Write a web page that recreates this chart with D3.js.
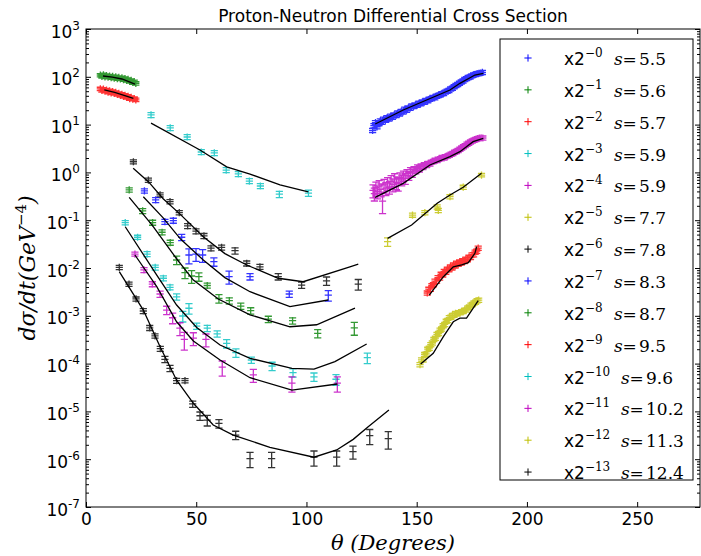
<!DOCTYPE html>
<html>
<head>
<meta charset="utf-8">
<script src="https://cdn.jsdelivr.net/npm/d3@7"></script>
<style>
  body { margin: 0; background: #fff; }
</style>
</head>
<body>
<div id="chart"></div>
<script>
// Proton-Neutron differential cross section, values as plotted (already scaled by 2^-n)

// legend info
var scaleExps = [0, 1, 2, 3, 4, 5, 6, 7, 8, 9, 10, 11, 12, 13];
var energies = ["5.5", "5.6", "5.7", "5.9", "5.9", "7.7", "7.8", "8.3", "8.7", "9.5", "9.6", "10.2", "11.3", "12.4"];
var colors = ["#0000ff", "#008000", "#ff0000", "#00bfbf", "#bf00bf", "#bfbf00", "#000000",
              "#0000ff", "#008000", "#ff0000", "#00bfbf", "#bf00bf", "#bfbf00", "#000000"];

// axis ticks
var xTickVals = [0, 50, 100, 150, 200, 250];
var yTickExps = [-7, -6, -5, -4, -3, -2, -1, 0, 1, 2, 3];

// s=5.5  (x2^-0)
var ang0 = [130.0,130.6,131.3,132.0,132.8,133.5,134.3,135.0,135.8,136.6,137.4,138.2,139.0,139.8,140.6,141.4,
  142.2,143.0,143.8,144.6,145.4,146.2,147.0,147.8,148.6,149.4,150.2,151.0,151.8,152.6,153.4,154.2,155.0,
  155.8,156.6,157.4,158.2,159.0,159.8,160.6,161.4,162.2,163.0,163.8,164.6,165.4,166.2,167.0,167.8,168.6,
  169.4,170.2,171.0,171.8,172.6,173.4,174.2,175.0,175.8,176.6,177.4,178.2,179.0,179.8];
var val0 = [7.6,9.5,11.0,9.0,10.5,12.0,11.2,13.0,12.4,14.0,13.2,15.0,14.3,16.0,15.5,17.5,16.8,19.0,18.5,21.0,
  20.0,22.5,22.0,24.5,24.0,26.0,25.5,28.0,27.5,30.0,29.5,32.0,31.5,34.0,35.0,37.0,36.5,39.5,41.0,42.0,44.5,
  45.0,48.0,50.0,52.0,56.0,58.0,62.0,66.0,69.0,74.0,78.0,82.0,88.0,92.0,97.0,100,105,110,112,116,118,120,124];
var err0 = 0.1;
var mAng0 = [131.2, 143.9, 154.5, 165.1, 169.6, 176.4, 180.2];
var mVal0 = [10.3, 20.2, 32.7, 53, 73, 109, 118];

// s=5.6  (x2^-1)
var ang1 = [6.5,7.2,7.9,8.6,9.3,10.0,10.7,11.4,12.1,12.8,13.5,14.2,14.9,15.6,16.3,17.0,17.7,18.4,19.1,19.8,20.5,21.2,21.9,22.6];
var val1 = [108,102,110,100,106,98,104,96,102,94,100,92,97,90,95,87,92,84,88,80,84,76,79,73];
var err1 = 0.08;
var mAng1 = [7.7, 12.0, 16.3, 22.2];
var mVal1 = [104, 98, 90, 70.6];

// s=5.7  (x2^-2)
var ang2 = [6.5,7.2,7.9,8.6,9.3,10.0,10.7,11.4,12.1,12.8,13.5,14.2,14.9,15.6,16.3,17.0,17.7,18.4,19.1,19.8,20.5,21.2,21.9,22.6];
var val2 = [56,52,55,50,53,48,51,46,49,45,47,43,45,41,43,39,41,37,39,35,37,34,35,33];
var err2 = 0.08;
var mAng2 = [8.3, 13.0, 16.9, 21.5];
var mVal2 = [53, 47, 41.6, 35.5];

// s=5.9  (x2^-3)
var ang3 = [29.5, 38.2, 45.9, 52.3, 58.2, 63.6, 69.1, 74.1, 79.1, 87.7, 100.9];
var val3 = [15.9, 8.5, 5.5, 2.67, 2.55, 1.12, 0.93, 0.66, 0.52, 0.35, 0.37];
var err3 = [0.12,0.12,0.12,0.12,0.12,0.12,0.12,0.12,0.12,0.15,0.15];
var mAng3 = [29.5, 51.7, 63.8, 74.4, 88.0, 100.8];
var mVal3 = [10.7, 2.94, 1.31, 0.92, 0.55, 0.39];

// s=5.9  (x2^-4)
var ang4 = [130.2,130.8,131.5,132.2,133.0,133.8,134.5,135.2,136.0,136.8,137.6,138.4,139.2,140.0,140.8,141.6,
  142.4,143.2,144.0,144.8,145.6,146.4,147.2,148.0,148.8,149.6,150.4,151.2,152.0,152.8,153.6,154.4,155.2,
  156.0,156.8,157.6,158.4,159.2,160.0,160.8,161.6,162.4,163.2,164.0,164.8,165.6,166.4,167.2,168.0,168.8,
  169.6,170.4,171.2,172.0,172.8,173.6,174.4,175.2,176.0,176.8,177.6,178.4,179.2,180.0];
var val4 = [0.42,0.36,0.48,0.40,0.52,0.44,0.25,0.55,0.47,0.60,0.50,0.66,0.56,0.72,0.62,0.58,0.78,0.70,0.85,
  0.75,0.95,0.85,1.05,0.98,1.15,1.10,1.25,1.20,1.35,1.30,1.45,1.40,1.55,1.50,1.65,1.70,1.80,1.78,1.90,1.95,
  2.05,2.00,2.15,2.20,2.30,2.40,2.50,2.65,2.75,2.90,3.05,3.25,3.45,3.65,3.90,4.10,4.35,4.55,4.75,4.90,5.10,
  5.20,5.30,5.25];
var err4 = [0.3,0.3,0.3,0.3,0.3,0.3,0.45,0.3,0.3,0.3,0.3,0.3,0.3,0.3,0.3,0.3,0.25,0.25,0.25,0.25,0.2,0.2,
  0.2,0.2,0.15,0.15,0.15,0.15,0.12,0.12,0.1,0.1,0.1,0.1,0.1,0.1,0.1,0.1,0.1,0.1,0.1,0.1,0.1,0.1,0.1,0.1,
  0.1,0.1,0.1,0.1,0.1,0.1,0.1,0.1,0.1,0.1,0.1,0.1,0.1,0.1,0.1,0.1,0.1,0.1];
var mAng4 = [131.1, 143.9, 156.0, 165.1, 169.6, 175.6, 180.2];
var mVal4 = [0.30, 0.59, 1.43, 2.13, 2.71, 4.39, 5.16];

// s=7.7  (x2^-5)
var ang5 = [136.8, 148.1, 153.7, 159.3, 159.8, 165.1, 171.1, 179.4];
var val5 = [0.0355, 0.128, 0.144, 0.19, 0.16, 0.31, 0.49, 0.88];
var err5 = [0.2, 0.1, 0.1, 0.1, 0.1, 0.1, 0.1, 0.08];
var mAng5 = [136.8, 147.7, 159.3, 165.1, 171.1, 179.4];
var mVal5 = [0.0418, 0.0794, 0.226, 0.337, 0.488, 0.957];

// s=7.8  (x2^-6)
var ang6 = [21.5, 28.3, 33.6, 38.1, 42.3, 46.1, 49.9, 53.5, 56.7, 61.5, 67.6, 72.9, 78.9, 87.2, 97.8, 109.1, 123.5];
var val6 = [1.67, 0.69, 0.34, 0.244, 0.144, 0.076, 0.059, 0.047, 0.026, 0.027, 0.023, 0.0125, 0.0106, 0.0066, 0.0044, 0.0054, 0.0046];
var err6 = [0.1,0.1,0.1,0.1,0.1,0.12,0.12,0.12,0.12,0.12,0.15,0.12,0.12,0.15,0.15,0.2,0.25];
var mAng6 = [21.4, 28.3, 35.0, 42.3, 53.2, 63.0, 72.9, 87.2, 98.5, 119.7, 123.5];
var mVal6 = [1.22, 0.64, 0.282, 0.139, 0.0452, 0.020, 0.01156, 0.0061, 0.00516, 0.0106, 0.0121];

// s=8.3  (x2^-7)
var ang7 = [26.5, 31.6, 35.8, 39.6, 43.4, 46.7, 49.9, 52.9, 58.0, 64.9, 74.4, 92.2, 109.9];
var val7 = [0.41, 0.265, 0.093, 0.098, 0.044, 0.0187, 0.0196, 0.0187, 0.0136, 0.0066, 0.0066, 0.00286, 0.0027];
var err7 = [0.1,0.12,0.12,0.12,0.15,0.35,0.3,0.3,0.2,0.3,0.15,0.15,0.25];
var mAng7 = [26.0, 35.0, 43.0, 53.2, 63.0, 74.4, 92.5, 109.9];
var mVal7 = [0.31, 0.112, 0.0398, 0.0147, 0.0063, 0.00319, 0.00155, 0.00214];

// s=8.7  (x2^-8)
var ang8 = [19.6, 25.7, 30.2, 34.5, 38.2, 41.1, 44.9, 47.9, 51.2, 55.0, 60.3, 65.0, 70.2, 74.7, 82.7, 93.7, 105.1, 121.7];
var val8 = [0.43, 0.156, 0.089, 0.056, 0.034, 0.0147, 0.008, 0.0068, 0.0066, 0.0043, 0.0023, 0.00207, 0.0016, 0.00128, 0.00085, 0.00079, 0.00043, 0.00056];
var err8 = [0.1,0.12,0.12,0.12,0.12,0.2,0.25,0.3,0.2,0.12,0.2,0.15,0.15,0.15,0.15,0.15,0.2,0.3];
var mAng8 = [19.6, 30.0, 41.0, 48.7, 60.0, 74.4, 92.5, 104.6, 122.0];
var mVal8 = [0.30, 0.079, 0.0158, 0.0056, 0.00224, 0.00105, 0.00059, 0.00065, 0.00145];

// s=9.5  (x2^-9)
var ang9 = [154.8,155.5,156.2,156.9,157.6,158.3,159.0,159.7,160.4,161.1,161.8,162.5,163.2,163.9,164.6,165.3,
  166.0,166.7,167.4,168.1,168.8,169.5,170.2,170.9,171.6,172.3,173.0,173.7,174.4,175.1,175.8,176.5,177.2,177.9];
var val9 = [0.0030,0.0036,0.0036,0.0043,0.0045,0.0053,0.0053,0.0063,0.0062,0.0074,0.0072,0.0085,0.0082,0.0095,
  0.0092,0.0106,0.0100,0.0116,0.0110,0.0126,0.0120,0.0134,0.0128,0.0142,0.0138,0.0154,0.0150,0.0168,0.0166,
  0.0188,0.0190,0.0215,0.0225,0.0260];
var err9 = 0.1;
var mAng9 = [155.7, 162.1, 166.6, 170.4, 173.4, 176.4, 177.2];
var mVal9 = [0.00272, 0.00658, 0.0106, 0.0116, 0.0129, 0.0203, 0.0279];

// s=9.6  (x2^-10)
var ang10 = [17.8, 23.4, 27.7, 31.4, 35.1, 38.1, 41.1, 43.9, 46.7, 50.2, 55.0, 59.5, 63.8, 68.0, 75.0, 84.4, 93.9, 103.4, 113.4, 127.6];
var val10 = [0.089, 0.044, 0.0196, 0.0103, 0.0061, 0.00395, 0.0025, 0.00099, 0.00144, 0.00061, 0.00055, 0.00042,
  0.000265, 0.000169, 0.000119, 0.000089, 0.000065, 0.000053, 0.000047, 0.000133];
var err10 = [0.1,0.1,0.12,0.12,0.12,0.12,0.15,0.25,0.25,0.15,0.15,0.15,0.2,0.2,0.15,0.2,0.2,0.2,0.25,0.25];
var mAng10 = [17.8, 32.1, 41.1, 50.2, 60.8, 74.4, 93.4, 103.4, 112.9, 127.3];
var mVal10 = [0.073, 0.0071, 0.00168, 0.00057, 0.000245, 0.000129, 0.0000796, 0.000077, 0.00011, 0.000257];

// s=10.2 (x2^-11)
var ang11 = [22.2, 26.3, 30.1, 33.6, 36.6, 39.3, 42.6, 44.6, 48.7, 54.4, 61.8, 75.9, 93.4, 114.0];
var val11 = [0.0196, 0.0091, 0.0046, 0.00286, 0.00132, 0.00091, 0.00055, 0.00032, 0.00034, 0.00032, 0.000084, 0.000058, 0.000039, 0.000039];
var err11 = [0.1,0.12,0.12,0.15,0.2,0.25,0.3,0.4,0.3,0.3,0.35,0.3,0.35,0.35];
var mAng11 = [22.2, 32.1, 41.1, 48.7, 60.8, 74.4, 93.4, 114.0];
var mVal11 = [0.0187, 0.00406, 0.00075, 0.000297, 0.000119, 0.0000507, 0.000028, 0.0000374];

// s=11.3 (x2^-12)
var ang12 = [151.5,152.2,152.9,153.6,154.3,155.0,155.7,156.4,157.1,157.8,158.5,159.2,159.9,160.6,161.3,162.0,
  162.7,163.4,164.1,164.8,165.5,166.2,166.9,167.6,168.3,169.0,169.7,170.4,171.1,171.8,172.5,173.2,173.9,174.6,
  175.3,176.0,176.7,177.4,178.1];
var val12 = [0.000095,0.00012,0.00012,0.000155,0.00016,0.0002,0.00021,0.00025,0.00027,0.00032,0.00034,0.00041,
  0.00043,0.0005,0.00053,0.00062,0.00066,0.00077,0.0008,0.00092,0.00094,0.00102,0.00103,0.00112,0.0011,0.00117,
  0.00116,0.00122,0.00124,0.00132,0.00133,0.00147,0.00153,0.00167,0.00173,0.00187,0.00193,0.00207,0.00213];
var err12 = 0.1;
var mAng12 = [151.8, 157.5, 162.1, 166.6, 169.6, 172.6, 177.9];
var mVal12 = [0.000098, 0.000164, 0.000366, 0.00075, 0.00089, 0.00089, 0.00207];

// s=12.4 (x2^-13)
var ang13 = [15.1, 19.5, 22.7, 26.0, 28.9, 31.3, 33.7, 35.8, 38.1, 41.1, 44.9, 48.4, 51.7, 55.0, 60.3, 67.9,
  74.4, 84.2, 103.4, 113.7, 121.1, 128.7, 137.1];
var val13 = [0.0103, 0.0046, 0.00225, 0.00126, 0.00056, 0.00038, 0.000205, 0.000123, 0.0000796, 0.000044, 0.000044,
  0.0000143, 0.0000081, 0.0000066, 0.0000056, 0.0000032, 0.00000103, 0.00000103, 0.0000011, 0.0000011,
  0.00000144, 0.0000031, 0.0000027];
var err13 = [0.1,0.1,0.1,0.12,0.12,0.1,0.12,0.15,0.15,0.12,0.1,0.15,0.2,0.25,0.2,0.2,0.35,0.35,0.35,0.35,0.3,0.35,0.4];
var mAng13 = [15.1, 26.0, 33.6, 41.1, 48.7, 57.7, 66.8, 83.4, 103.4, 113.7, 121.2, 128.0, 137.4];
var mVal13 = [0.0084, 0.00132, 0.000226, 0.000045, 0.0000148, 0.0000052, 0.0000032, 0.00000177, 0.0000011,
  0.00000156, 0.0000026, 0.0000048, 0.0000107];

var series = [
  {ang: ang0, val: val0, err: err0, mAng: mAng0, mVal: mVal0},
  {ang: ang1, val: val1, err: err1, mAng: mAng1, mVal: mVal1},
  {ang: ang2, val: val2, err: err2, mAng: mAng2, mVal: mVal2},
  {ang: ang3, val: val3, err: err3, mAng: mAng3, mVal: mVal3},
  {ang: ang4, val: val4, err: err4, mAng: mAng4, mVal: mVal4},
  {ang: ang5, val: val5, err: err5, mAng: mAng5, mVal: mVal5},
  {ang: ang6, val: val6, err: err6, mAng: mAng6, mVal: mVal6},
  {ang: ang7, val: val7, err: err7, mAng: mAng7, mVal: mVal7},
  {ang: ang8, val: val8, err: err8, mAng: mAng8, mVal: mVal8},
  {ang: ang9, val: val9, err: err9, mAng: mAng9, mVal: mVal9},
  {ang: ang10, val: val10, err: err10, mAng: mAng10, mVal: mVal10},
  {ang: ang11, val: val11, err: err11, mAng: mAng11, mVal: mVal11},
  {ang: ang12, val: val12, err: err12, mAng: mAng12, mVal: mVal12},
  {ang: ang13, val: val13, err: err13, mAng: mAng13, mVal: mVal13}
];

var width = 701;
var height = 556;
var plotLeft = 86, plotRight = 700, plotTop = 29, plotBottom = 507;

/* Scales */
var xScale = d3.scaleLinear().domain([0, 278.5]).range([plotLeft, plotRight]);
var yScale = d3.scaleLog().domain([1e-7, 1e3]).range([plotBottom, plotTop]);

var svg = d3.select("#chart").append("svg")
  .attr("width", width)
  .attr("height", height)
  .attr("font-family", "DejaVu Sans");

svg.append("rect").attr("width", width).attr("height", height).attr("fill", "#fff");

svg.append("defs").append("clipPath").attr("id", "plotclip")
  .append("rect").attr("x", plotLeft).attr("y", plotTop)
  .attr("width", plotRight - plotLeft).attr("height", plotBottom - plotTop);

/* Points with error bars */
var plot = svg.append("g").attr("clip-path", "url(#plotclip)");
var half = 3.6;

series.forEach(function(s, k) {
  var d = "";
  var n = Math.min(s.ang.length, s.val.length);
  for (var i = 0; i < n; i++) {
    var e = Array.isArray(s.err) ? s.err[i] : s.err;
    var cx = xScale(s.ang[i]);
    var cy = yScale(s.val[i]);
    var y1 = yScale(s.val[i] * (1 + e));
    var y2 = yScale(s.val[i] * (1 - e));
    d += "M" + cx + "," + y1 + "V" + y2;
    d += "M" + (cx - half) + "," + y1 + "h" + (2 * half);
    d += "M" + (cx - half) + "," + y2 + "h" + (2 * half);
    d += "M" + (cx - half) + "," + cy + "h" + (2 * half);
    d += "M" + cx + "," + (cy - half) + "v" + (2 * half);
  }
  plot.append("path")
    .attr("d", d)
    .attr("fill", "none")
    .attr("stroke", colors[k])
    .attr("stroke-opacity", 0.8)
    .attr("stroke-width", 1.3);
});

/* Model curves */
var line = d3.line()
  .x(function(d) { return xScale(d[0]); })
  .y(function(d) { return yScale(d[1]); });

series.forEach(function(s) {
  plot.append("path")
    .datum(d3.zip(s.mAng, s.mVal))
    .attr("d", line)
    .attr("fill", "none")
    .attr("stroke", "#000")
    .attr("stroke-width", 1.3);
});

/* Axes */
var yMinor = [];
for (var p = -7; p < 3; p++) {
  for (var m = 2; m < 10; m++) yMinor.push(m * Math.pow(10, p));
}
var yMajor = yTickExps.map(function(e) { return Math.pow(10, e); });

function strip(g) { g.select(".domain").remove(); g.selectAll("text").remove(); }

svg.append("g").attr("transform", "translate(0," + plotBottom + ")")
  .call(d3.axisBottom(xScale).tickValues(xTickVals).tickSize(-5).tickPadding(6).tickFormat(d3.format("d")))
  .call(function(g) {
    g.select(".domain").remove();
    g.selectAll("text").attr("font-size", 17).attr("fill", "#000").attr("font-family", "DejaVu Sans");
  });
svg.append("g").attr("transform", "translate(0," + plotTop + ")")
  .call(d3.axisTop(xScale).tickValues(xTickVals).tickSize(-5)).call(strip);

svg.append("g").attr("transform", "translate(" + plotLeft + ",0)")
  .call(d3.axisLeft(yScale).tickValues(yMajor).tickSize(-5)).call(strip);
svg.append("g").attr("transform", "translate(" + plotLeft + ",0)")
  .call(d3.axisLeft(yScale).tickValues(yMinor).tickSize(-3)).call(strip);
svg.append("g").attr("transform", "translate(" + plotRight + ",0)")
  .call(d3.axisRight(yScale).tickValues(yMajor).tickSize(-5)).call(strip);
svg.append("g").attr("transform", "translate(" + plotRight + ",0)")
  .call(d3.axisRight(yScale).tickValues(yMinor).tickSize(-3)).call(strip);

// y tick labels 10^n
yTickExps.forEach(function(e) {
  var t = svg.append("text")
    .attr("x", plotLeft - 6)
    .attr("y", yScale(Math.pow(10, e)) + 8.5)
    .attr("text-anchor", "end")
    .attr("font-size", 17)
    .attr("fill", "#000");
  t.append("tspan").text("10");
  t.append("tspan").attr("dy", -8).attr("font-size", 12).text(e < 0 ? "-" + (-e) : "" + e);
});

// frame
svg.append("rect")
  .attr("x", plotLeft).attr("y", plotTop)
  .attr("width", plotRight - plotLeft).attr("height", plotBottom - plotTop)
  .attr("fill", "none").attr("stroke", "#000").attr("stroke-width", 1);

/* Title and axis labels */
svg.append("text")
  .attr("x", (plotLeft + plotRight) / 2).attr("y", 22)
  .attr("text-anchor", "middle")
  .attr("font-size", 17)
  .text("Proton-Neutron Differential Cross Section");

svg.append("text")
  .attr("x", (plotLeft + plotRight) / 2).attr("y", 550)
  .attr("text-anchor", "middle")
  .attr("font-family", "DejaVu Serif").attr("font-style", "italic")
  .attr("font-size", 21)
  .text("\u03b8 (Degrees)");

var ylab = svg.append("text")
  .attr("transform", "translate(35," + (plotTop + plotBottom) / 2 + ") rotate(-90)")
  .attr("text-anchor", "middle")
  .attr("font-family", "DejaVu Serif").attr("font-style", "italic")
  .attr("font-size", 22);
ylab.append("tspan").text("d\u03c3/dt(GeV");
ylab.append("tspan").attr("dy", -9).attr("font-size", 15).attr("font-style", "normal").text("\u22124");
ylab.append("tspan").attr("dy", 9).text(")");

/* Legend */
var legend = svg.append("g");
legend.append("rect")
  .attr("x", 500).attr("y", 39).attr("width", 193).attr("height", 441)
  .attr("fill", "#fff").attr("stroke", "#000").attr("stroke-width", 1);

scaleExps.forEach(function(e, i) {
  var ry = 58 + i * 31.85;
  legend.append("path")
    .attr("d", "M" + (528 - half) + "," + ry + "h" + (2 * half) + "M528," + (ry - half) + "v" + (2 * half))
    .attr("stroke", colors[i]).attr("stroke-width", 1).attr("fill", "none");
  var shift = e >= 10 ? 7 : 0;
  var t = legend.append("text").attr("y", ry + 7).attr("font-size", 17);
  t.append("tspan").attr("x", 564).text("x2");
  t.append("tspan").attr("dy", -8).attr("font-size", 12).attr("font-family", "DejaVu Serif").text("\u2212" + e);
  t.append("tspan").attr("x", 614 + shift).attr("dy", 8).attr("font-family", "DejaVu Serif").attr("font-style", "italic").text("s");
  t.append("tspan").attr("x", 622.5 + shift).attr("font-family", "DejaVu Serif").text("=");
  t.append("tspan").attr("x", 639 + shift).attr("font-family", "DejaVu Serif").text(energies[i]);
});
</script>
</body>
</html>
